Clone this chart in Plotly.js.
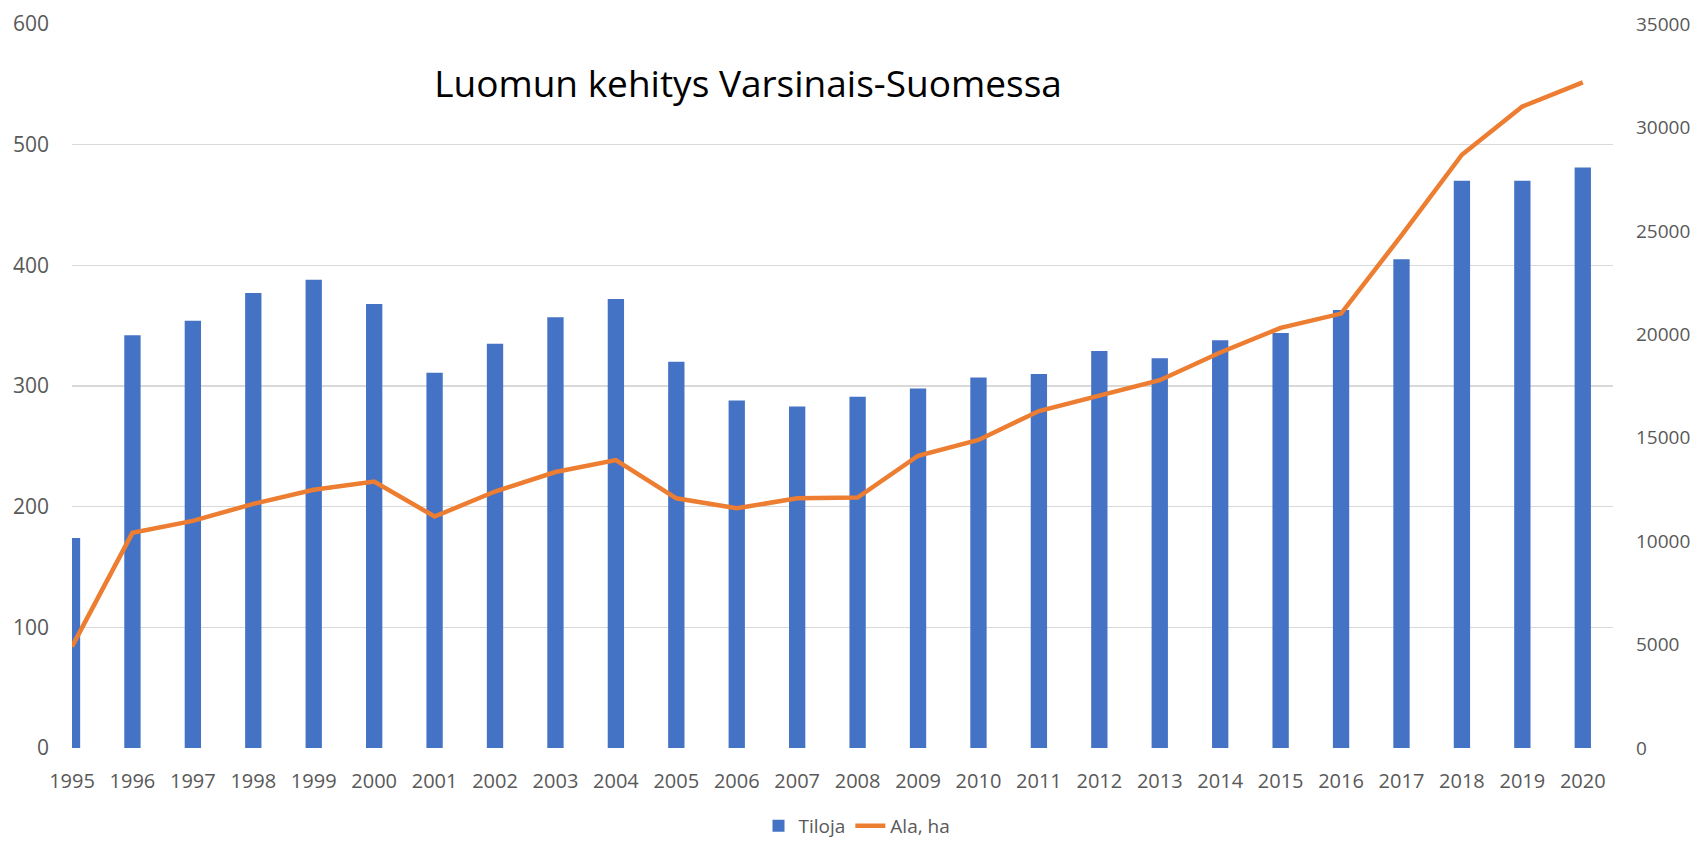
<!DOCTYPE html>
<html>
<head>
<meta charset="utf-8">
<script src="https://cdn.plot.ly/plotly-3.0.1.min.js"></script>
<style>html,body{margin:0;padding:0;background:#fff;}#chart{width:1702px;height:845px;}</style>
</head>
<body>
<div id="chart"></div>
<script>
const years = ["1995","1996","1997","1998","1999","2000","2001","2002","2003","2004","2005","2006","2007","2008","2009","2010","2011","2012","2013","2014","2015","2016","2017","2018","2019","2020"];
const tiloja = [174,342,354,377,388,368,311,335,357,372,320,288,283,291,298,307,310,329,323,338,344,363,405,470,470,481];
const alaHa = [4900,10400,10980,11800,12480,12880,11190,12400,13340,13920,12070,11590,12070,12110,14130,14890,16290,17020,17780,19120,20310,21000,24780,28680,31010,32180];
const leftTicks = [0,100,200,300,400,500,600];
const rightTicks = [0,5000,10000,15000,20000,25000,30000,35000];

const fontFam = '"Open Sans", "Liberation Sans", sans-serif';
const grey = '#595959';

const traces = [
  {
    type: 'bar', name: 'Tiloja', x: years, y: tiloja, yaxis: 'y',
    marker: {color: '#4472c4'}, width: 0.27, hoverinfo: 'x+y'
  },
  {
    type: 'scatter', mode: 'lines', name: 'Ala, ha', x: years, y: alaHa, yaxis: 'y2',
    line: {color: '#ed7d31', width: 4.5}
  }
];

const layout = {
  width: 1702, height: 845,
  paper_bgcolor: '#ffffff', plot_bgcolor: '#ffffff',
  margin: {l: 72, r: 89, t: 24, b: 97, pad: 0, autoexpand: false},
  font: {family: fontFam, color: grey, size: 20},
  title: {
    text: 'Luomun kehitys Varsinais-Suomessa',
    font: {family: fontFam, size: 37, color: '#000000'},
    x: 748/1702, xref: 'container', xanchor: 'center',
    y: 1 - 84/845, yref: 'container', yanchor: 'middle'
  },
  showlegend: true,
  legend: {
    orientation: 'h', x: 857/1702, xref: 'container', xanchor: 'center',
    y: 1 - 826/845, yref: 'container', yanchor: 'middle', bgcolor: 'rgba(0,0,0,0)',
    font: {family: fontFam, size: 19, color: grey}, traceorder: 'normal'
  },
  xaxis: {
    type: 'category', range: [0, 25.5], showgrid: false, zeroline: false,
    showline: false, ticks: '', ticklabelstandoff: 19, automargin: false,
    tickfont: {family: fontFam, size: 20, color: grey}, fixedrange: true
  },
  yaxis: {
    range: [0, 600], tickvals: leftTicks, ticktext: leftTicks.map(String),
    showgrid: true, gridcolor: '#d9d9d9', gridwidth: 1.4, zeroline: false, showline: false,
    ticks: '', ticklabelstandoff: 22, automargin: false,
    tickfont: {family: fontFam, size: 21, color: grey}
  },
  yaxis2: {
    range: [0, 35000], tickvals: rightTicks, ticktext: rightTicks.map(String),
    overlaying: 'y', side: 'right', showgrid: false, zeroline: false, showline: false,
    ticks: '', ticklabelstandoff: 22, automargin: false,
    tickfont: {family: fontFam, size: 19, color: grey}
  }
};

Plotly.newPlot('chart', traces, layout, {displayModeBar: false, staticPlot: true});
</script>
</body>
</html>
